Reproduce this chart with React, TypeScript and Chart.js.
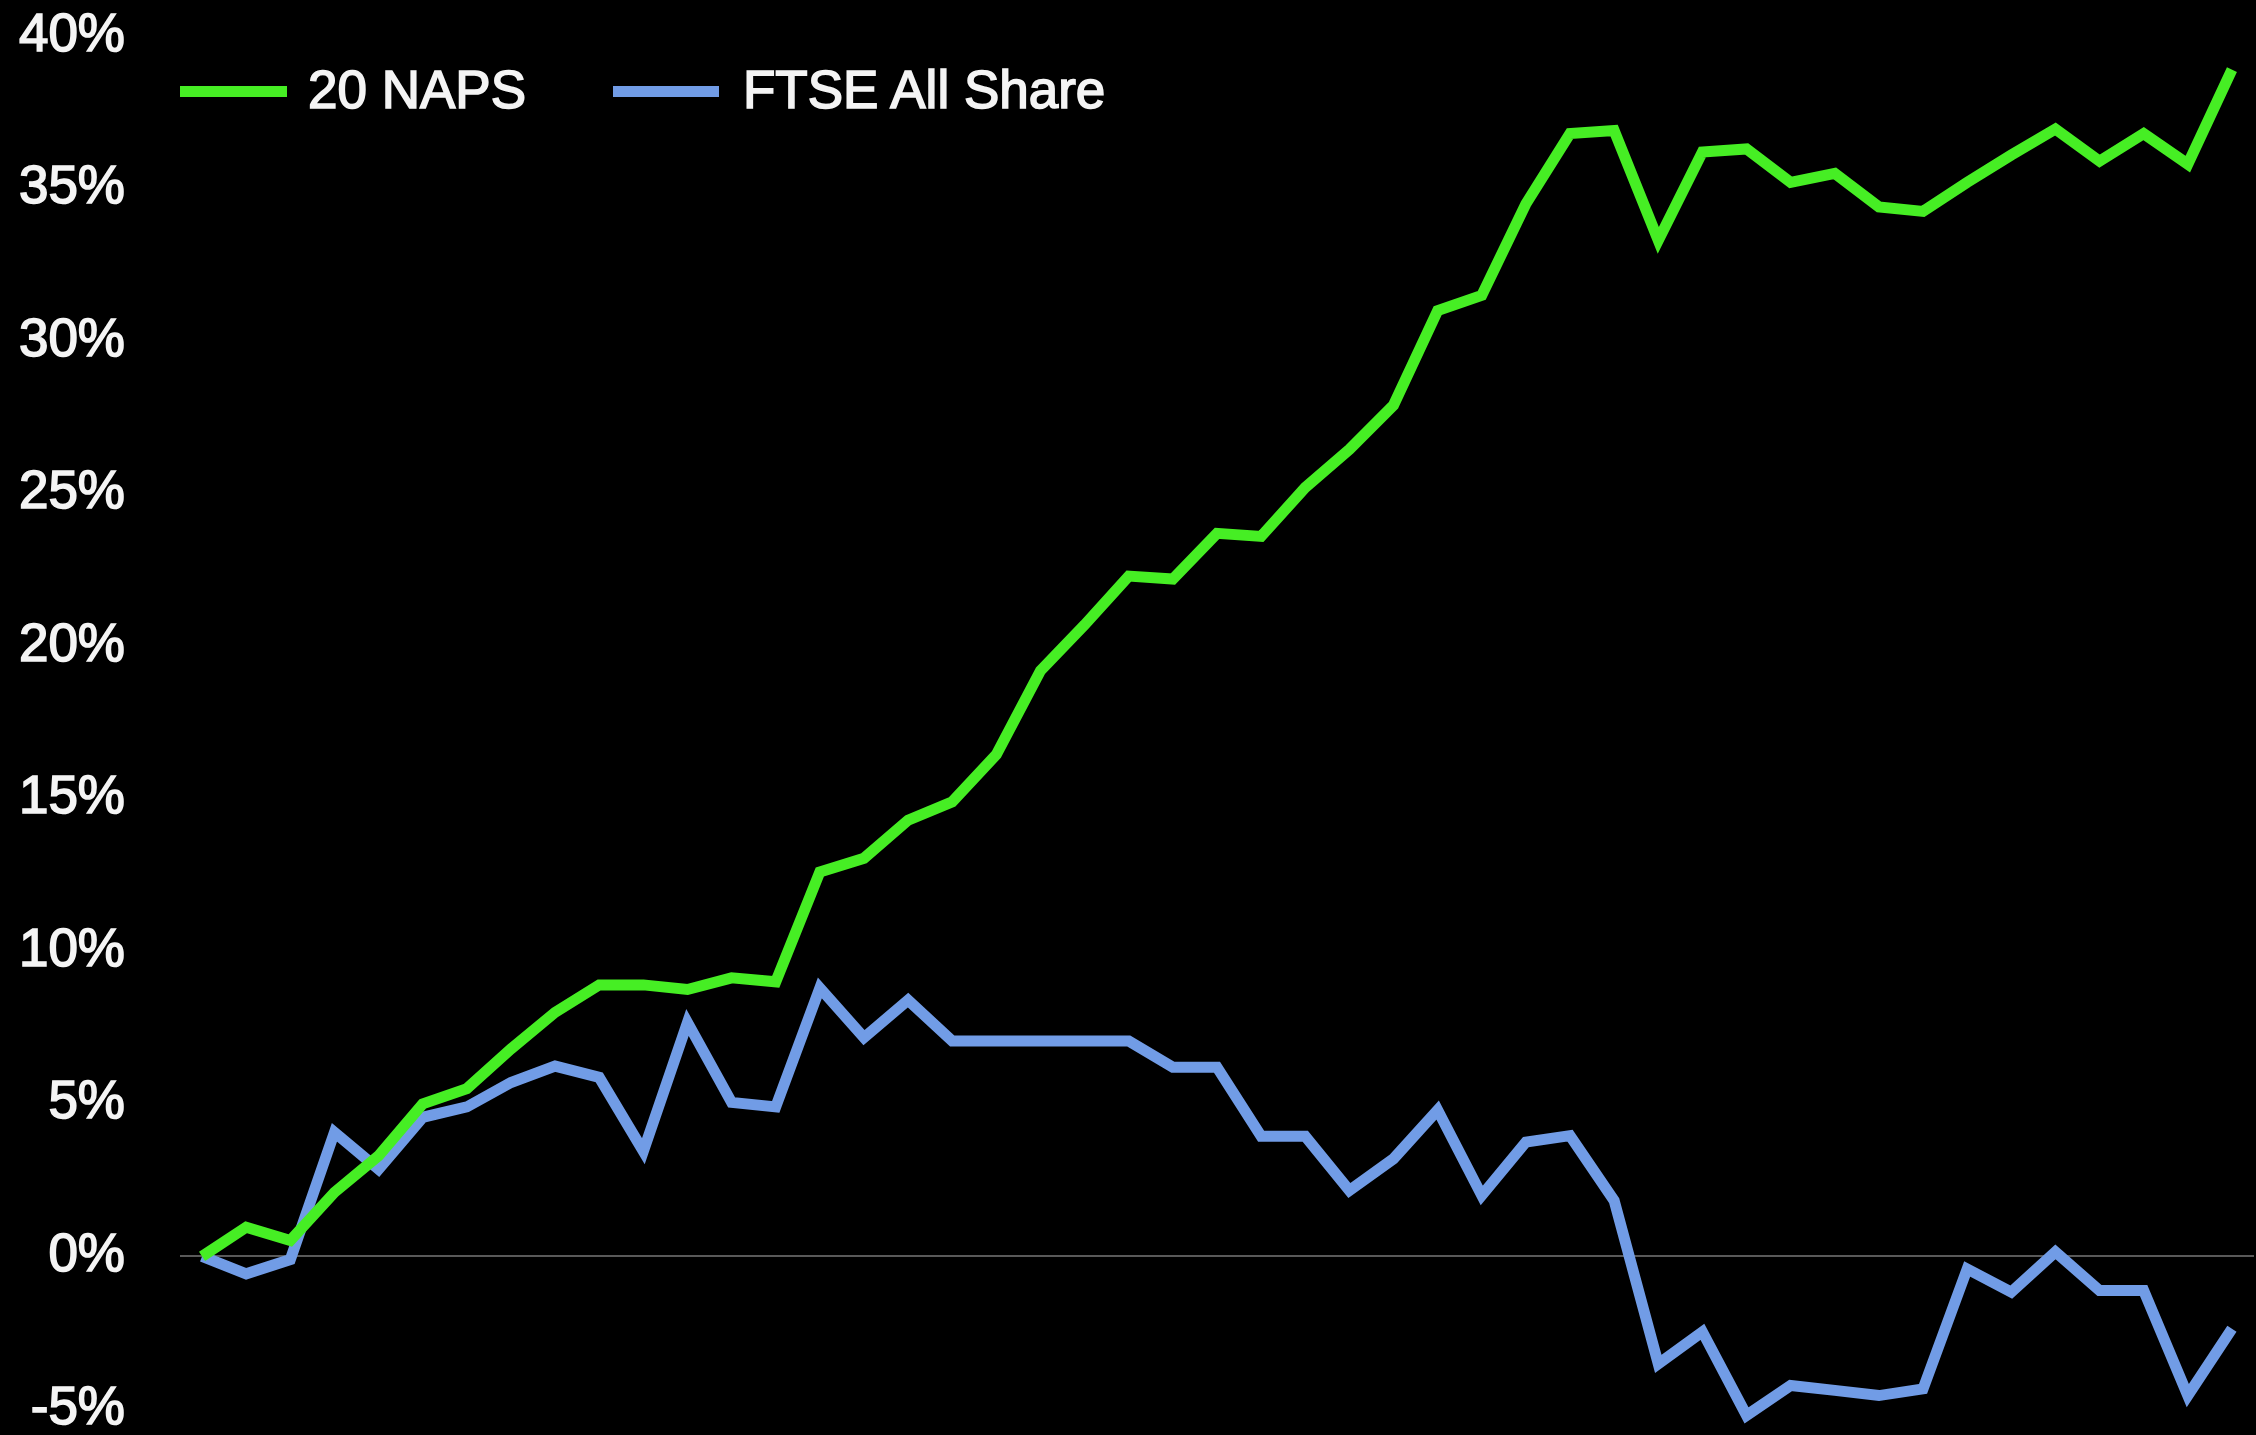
import React, { useEffect, useRef } from "react";
import { Chart, registerables } from "chart.js";

Chart.register(...registerables);

const categories: string[] = [
  "1", "2", "3", "4", "5", "6", "7", "8", "9", "10",
  "11", "12", "13", "14", "15", "16", "17", "18", "19", "20",
  "21", "22", "23", "24", "25", "26", "27", "28", "29", "30",
  "31", "32", "33", "34", "35", "36", "37", "38", "39", "40",
  "41", "42", "43", "44", "45", "46", "47",
];

const seriesNames: string[] = ["20 NAPS", "FTSE All Share"];

const napsValues: number[] = [
  0, 0.96, 0.52, 2.1, 3.3, 5.0, 5.5, 6.8, 8.0, 8.9,
  8.9, 8.75, 9.13, 9.0, 12.6, 13.05, 14.3, 14.9, 16.45, 19.2,
  20.7, 22.3, 22.2, 23.7, 23.6, 25.2, 26.45, 27.9, 31.0, 31.5,
  34.5, 36.8, 36.9, 33.3, 36.2, 36.3, 35.2, 35.5, 34.4, 34.25,
  35.2, 36.1, 36.95, 35.9, 36.8, 35.8, 38.9,
];

const ftseValues: number[] = [
  0, -0.57, -0.1, 4.07, 2.86, 4.56, 4.9, 5.7, 6.24, 5.87,
  3.45, 7.67, 5.05, 4.9, 8.8, 7.17, 8.4, 7.06, 7.06, 7.06,
  7.06, 7.06, 6.2, 6.2, 3.94, 3.94, 2.16, 3.2, 4.8, 2.0,
  3.75, 3.96, 1.83, -3.52, -2.47, -5.21, -4.23, -4.39, -4.56, -4.34,
  -0.41, -1.17, 0.15, -1.12, -1.12, -4.56, -2.37,
];

const yTickValues: number[] = [-5, 0, 5, 10, 15, 20, 25, 30, 35, 40];

const GREEN = "#46ee24";
const BLUE = "#719ce6";
const TEXT = "#f4f4f4";
const FONT = "'Liberation Sans', Arial, Helvetica, sans-serif";

export default function App() {
  const canvasRef = useRef<HTMLCanvasElement | null>(null);

  useEffect(() => {
    document.body.style.margin = "0";
    document.body.style.background = "#000";
    const canvas = canvasRef.current;
    if (!canvas) return;
    const chart = new Chart(canvas, {
      type: "line",
      data: {
        labels: categories,
        datasets: [
          {
            label: seriesNames[0],
            data: napsValues,
            borderColor: GREEN,
            backgroundColor: GREEN,
            borderWidth: 11,
            pointRadius: 0,
            tension: 0,
            borderJoinStyle: "miter",
            clip: false as any,
          },
          {
            label: seriesNames[1],
            data: ftseValues,
            borderColor: BLUE,
            backgroundColor: BLUE,
            borderWidth: 11,
            pointRadius: 0,
            tension: 0,
            borderJoinStyle: "miter",
            clip: false as any,
          },
        ],
      },
      options: {
        responsive: false,
        animation: false,
        devicePixelRatio: 1,
        layout: { padding: { top: 36, bottom: 26, left: 0, right: 2 } },
        plugins: {
          legend: { display: false },
          tooltip: { enabled: false },
        },
        scales: {
          x: {
            type: "category",
            display: false,
            offset: true,
            grid: { display: false },
          },
          y: {
            min: -5,
            max: 40,
            afterFit: (scale: any) => {
              scale.width = 180;
              scale.paddingTop = 0;
              scale.paddingBottom = 0;
            },
            afterBuildTicks: (scale: any) => {
              scale.ticks = yTickValues.map((v) => ({ value: v }));
            },
            border: { display: false },
            grid: {
              drawTicks: false,
              lineWidth: 2,
              color: (ctx: any) =>
                ctx.tick && ctx.tick.value === 0 ? "#595959" : "rgba(0,0,0,0)",
            },
            ticks: {
              color: TEXT,
              padding: 55,
              textStrokeColor: TEXT,
              textStrokeWidth: 1.6,
              font: { family: FONT, size: 53, lineHeight: 0.9 },
              callback: (v: any) => `${v}%`,
            },
          },
        },
      },
    });
    return () => chart.destroy();
  }, []);

  const swatch = (left: number, width: number, color: string) => ({
    position: "absolute" as const,
    left,
    top: 86,
    width,
    height: 11,
    background: color,
  });
  const text = (left: number) => ({
    position: "absolute" as const,
    left,
    top: 63,
    fontFamily: FONT,
    fontSize: 53,
    lineHeight: "53px",
    color: TEXT,
    WebkitTextStroke: `1.6px ${TEXT}`,
    whiteSpace: "nowrap" as const,
  });

  return (
    <div
      style={{
        position: "fixed",
        left: 0,
        top: 0,
        width: 2256,
        height: 1435,
        background: "#000",
        overflow: "hidden",
      }}
    >
      <canvas
        ref={canvasRef}
        width={2256}
        height={1435}
        style={{ width: 2256, height: 1435, display: "block" }}
      />
      <div style={swatch(180, 107, GREEN)} />
      <div style={text(308)}>{seriesNames[0]}</div>
      <div style={swatch(613, 106, BLUE)} />
      <div style={text(743)}>{seriesNames[1]}</div>
    </div>
  );
}
